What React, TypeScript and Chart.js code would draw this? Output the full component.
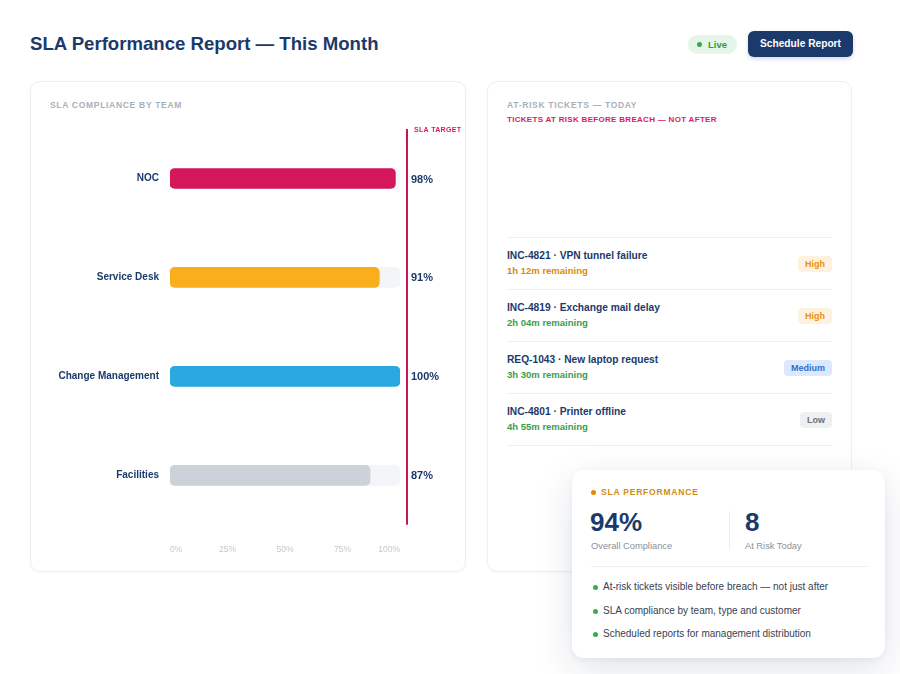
import React, { useEffect, useRef } from "react";
import { Chart, registerables } from "chart.js";

Chart.register(...registerables);

const teams = ["NOC", "Service Desk", "Change Management", "Facilities"];
const compliance = [98, 91, 100, 87];
const trackValues = [100, 100, 100, 100];
const barColors = ["#d3175a", "#fbae1c", "#2aa8e0", "#cbd2da"];
const xTicks = [0, 25, 50, 75, 100];

const tickets = [
  { id: "INC-4821", title: "VPN tunnel failure", remaining: "1h 12m remaining", urgent: true, priority: "High" },
  { id: "INC-4819", title: "Exchange mail delay", remaining: "2h 04m remaining", urgent: false, priority: "High" },
  { id: "REQ-1043", title: "New laptop request", remaining: "3h 30m remaining", urgent: false, priority: "Medium" },
  { id: "INC-4801", title: "Printer offline", remaining: "4h 55m remaining", urgent: false, priority: "Low" },
];

const bullets = [
  "At-risk tickets visible before breach — not just after",
  "SLA compliance by team, type and customer",
  "Scheduled reports for management distribution",
];

const NAVY = "#1b3a6b";
const FONT = "'Liberation Sans', Arial, Helvetica, sans-serif";

const badgeStyles: Record<string, { bg: string; fg: string; w: number }> = {
  High: { bg: "#fdf1e0", fg: "#e8930c", w: 34 },
  Medium: { bg: "#dce8fb", fg: "#2f6fce", w: 48 },
  Low: { bg: "#eef0f2", fg: "#6b7280", w: 32 },
};

const targetPlugin = {
  id: "targetPlugin",
  afterDatasetsDraw(chart: any) {
    const { ctx, chartArea, scales } = chart;
    const lx = chartArea.right + 7;
    ctx.save();
    ctx.strokeStyle = "#c2185b";
    ctx.lineWidth = 2;
    ctx.beginPath();
    ctx.moveTo(lx, chartArea.top);
    ctx.lineTo(lx, chartArea.bottom);
    ctx.stroke();
    ctx.fillStyle = "#d81b60";
    ctx.font = `bold 7px ${FONT}`;
    ctx.textBaseline = "middle";
    ctx.textAlign = "left";
    (ctx as any).letterSpacing = "0.3px";
    ctx.fillText("SLA TARGET", lx + 7, chartArea.top + 1);
    (ctx as any).letterSpacing = "0px";
    ctx.fillStyle = NAVY;
    ctx.font = `bold 11px ${FONT}`;
    compliance.forEach((v, i) => {
      const y = scales.y.getPixelForValue(i);
      ctx.fillText(v + "%", lx + 4, y + 1);
    });
    ctx.restore();
  },
};

function ComplianceChart() {
  const ref = useRef<HTMLCanvasElement>(null);
  useEffect(() => {
    if (!ref.current) return;
    const chart = new Chart(ref.current, {
      type: "bar",
      data: {
        labels: teams,
        datasets: [
          {
            data: compliance,
            backgroundColor: barColors,
            barThickness: 20,
            borderRadius: 5,
            borderSkipped: false,
            grouped: false,
          } as any,
          {
            data: trackValues,
            backgroundColor: "#f3f5f8",
            barThickness: 20,
            borderRadius: 5,
            borderSkipped: false,
            grouped: false,
          } as any,
        ],
      },
      options: {
        indexAxis: "y",
        animation: false,
        responsive: false,
        layout: { padding: { top: 8, right: 66, bottom: 0, left: 0 } },
        plugins: { legend: { display: false }, tooltip: { enabled: false } },
        scales: {
          x: {
            min: 0,
            max: 100,
            afterBuildTicks: (scale: any) => {
              scale.ticks = xTicks.map((v) => ({ value: v }));
            },
            grid: { display: false, drawTicks: false },
            border: { display: false },
            ticks: {
              align: "inner",
              padding: 20,
              maxRotation: 0,
              color: "#c3c7cd",
              font: { family: FONT, size: 8.5 },
              callback: (v: any) => v + "%",
            },
          } as any,
          y: {
            grid: { display: false, drawTicks: false },
            border: { display: false },
            afterFit: (scale: any) => {
              scale.width = 120;
              scale.paddingTop = 0;
              scale.paddingBottom = 0;
            },
            ticks: {
              padding: 11,
              color: NAVY,
              font: { family: FONT, size: 10, weight: "bold" },
            },
          },
        },
      },
      plugins: [targetPlugin],
    });
    return () => chart.destroy();
  }, []);
  return <canvas ref={ref} width={416} height={454} style={{ position: "absolute", left: 19, top: 39 }} />;
}

const abs = (s: React.CSSProperties): React.CSSProperties => ({ position: "absolute", ...s });

export default function App() {
  return (
    <div style={abs({ left: 0, top: 0, width: 900, height: 674, background: "#ffffff", fontFamily: FONT, overflow: "hidden" })}>
      <div style={abs({ left: 30, top: 32, fontSize: 18.6, fontWeight: 700, color: NAVY, lineHeight: "24px", whiteSpace: "nowrap" })}>
        SLA Performance Report — This Month
      </div>
      <div style={abs({ left: 688, top: 35, width: 49, height: 19, borderRadius: 10, background: "#e5f5e9" })}>
        <div style={abs({ left: 9, top: 7, width: 5, height: 5, borderRadius: 3, background: "#37a84a" })} />
        <div style={abs({ left: 20, top: 0, lineHeight: "19px", fontSize: 9.5, fontWeight: 700, color: "#2f9e44" })}>Live</div>
      </div>
      <div style={abs({ left: 748, top: 31, width: 105, height: 26, borderRadius: 6, background: NAVY, color: "#fff", fontSize: 10.2, fontWeight: 700, lineHeight: "26px", textAlign: "center", boxShadow: "0 2px 4px rgba(27,58,107,0.2)" })}>
        Schedule Report
      </div>

      <div style={abs({ left: 30, top: 81, width: 434, height: 489, border: "1px solid #edf0f3", borderRadius: 10, background: "#fff", boxShadow: "0 1px 3px rgba(0,0,0,0.03)" })}>
        <div style={abs({ left: 19, top: 18, fontSize: 8.5, fontWeight: 700, color: "#aab0b8", letterSpacing: 0.7, whiteSpace: "nowrap" })}>SLA COMPLIANCE BY TEAM</div>
      </div>

      <div style={abs({ left: 487, top: 81, width: 363, height: 489, border: "1px solid #edf0f3", borderRadius: 10, background: "#fff", boxShadow: "0 1px 3px rgba(0,0,0,0.03)" })}>
        <div style={abs({ left: 19, top: 18, fontSize: 8.5, fontWeight: 700, color: "#aab0b8", letterSpacing: 0.7, whiteSpace: "nowrap" })}>AT-RISK TICKETS — TODAY</div>
        <div style={abs({ left: 19, top: 33, fontSize: 8, fontWeight: 700, color: "#d81b60", letterSpacing: 0.3, whiteSpace: "nowrap" })}>TICKETS AT RISK BEFORE BREACH — NOT AFTER</div>
      </div>

      <div style={abs({ left: 31, top: 82, width: 434, height: 489 })}>
        <ComplianceChart />
      </div>

      <div style={abs({ left: 507, top: 237, width: 325, borderTop: "1px solid #eceef1" })}>
        {tickets.map((t, i) => {
          const b = badgeStyles[t.priority];
          return (
            <div key={i} style={{ position: "relative", height: 51, borderBottom: "1px solid #eceef1" }}>
              <div style={abs({ left: 0, top: 12, fontSize: 10.2, fontWeight: 700, color: NAVY, whiteSpace: "nowrap" })}>
                {t.id} · {t.title}
              </div>
              <div style={abs({ left: 0, top: 27, fontSize: 9.5, fontWeight: 700, color: t.urgent ? "#e08a00" : "#3a9e48", whiteSpace: "nowrap" })}>
                {t.remaining}
              </div>
              <div style={abs({ right: 0, top: 18, width: b.w, height: 16, borderRadius: 4, background: b.bg, color: b.fg, fontSize: 9, fontWeight: 700, lineHeight: "16px", textAlign: "center" })}>
                {t.priority}
              </div>
            </div>
          );
        })}
      </div>

      <div style={abs({ left: 572, top: 470, width: 313, height: 188, borderRadius: 12, background: "#fff", boxShadow: "0 12px 40px rgba(20,35,70,0.12), 0 2px 6px rgba(20,35,70,0.05)" })}>
        <div style={abs({ left: 19, top: 20, width: 5, height: 5, borderRadius: 3, background: "#e08a00" })} />
        <div style={abs({ left: 29, top: 17, fontSize: 8.5, fontWeight: 700, color: "#d48a0a", letterSpacing: 0.8, whiteSpace: "nowrap" })}>SLA PERFORMANCE</div>
        <div style={abs({ left: 18, top: 37, fontSize: 26, fontWeight: 700, color: NAVY, lineHeight: "30px" })}>94%</div>
        <div style={abs({ left: 19, top: 71, fontSize: 9.3, color: "#8c929b", whiteSpace: "nowrap" })}>Overall Compliance</div>
        <div style={abs({ left: 157, top: 41, width: 1, height: 38, background: "#eceef1" })} />
        <div style={abs({ left: 173, top: 37, fontSize: 26, fontWeight: 700, color: NAVY, lineHeight: "30px" })}>8</div>
        <div style={abs({ left: 173, top: 71, fontSize: 9.3, color: "#8c929b", whiteSpace: "nowrap" })}>At Risk Today</div>
        <div style={abs({ left: 19, top: 96, width: 277, height: 1, background: "#eceef1" })} />
        {bullets.map((b, i) => (
          <div key={i} style={abs({ left: 19, top: 110 + i * 23.5, height: 14 })}>
            <div style={abs({ left: 2, top: 5, width: 5, height: 5, borderRadius: 3, background: "#3aaa4a" })} />
            <div style={abs({ left: 12, top: 0, fontSize: 10, color: "#3a4150", whiteSpace: "nowrap", lineHeight: "14px" })}>{b}</div>
          </div>
        ))}
      </div>
    </div>
  );
}
